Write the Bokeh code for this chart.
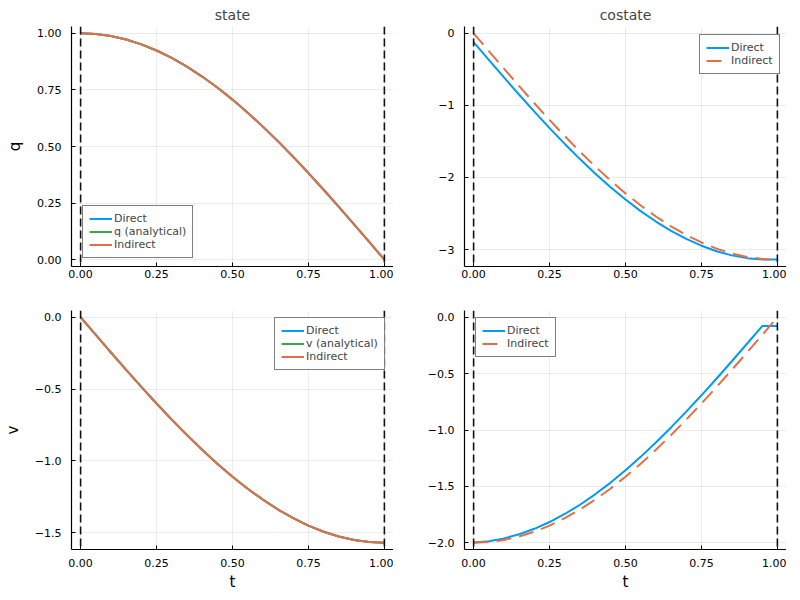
from bokeh.plotting import figure
from bokeh.layouts import gridplot
from bokeh.models import Range1d, Span, FixedTicker, CustomJSTickFormatter
from bokeh.embed import file_html
from bokeh.resources import INLINE

# time grid and values
t = [0.0, 0.05, 0.1, 0.15, 0.2, 0.25, 0.3, 0.35, 0.4, 0.45, 0.5,
     0.55, 0.6, 0.65, 0.7, 0.75, 0.8, 0.85, 0.9, 0.95, 1.0]

q_direct = [1.0, 0.9969, 0.9877, 0.9724, 0.9511, 0.9239, 0.891, 0.8526, 0.809, 0.7604, 0.7071,
            0.6495, 0.5878, 0.5225, 0.454, 0.3827, 0.309, 0.2334, 0.1564, 0.0785, 0.0]
q_analytical = [1.0, 0.9969, 0.9877, 0.9724, 0.9511, 0.9239, 0.891, 0.8526, 0.809, 0.7604, 0.7071,
                0.6495, 0.5878, 0.5225, 0.454, 0.3827, 0.309, 0.2334, 0.1564, 0.0785, 0.0]
q_indirect = [1.0, 0.9969, 0.9877, 0.9724, 0.9511, 0.9239, 0.891, 0.8526, 0.809, 0.7604, 0.7071,
              0.6495, 0.5878, 0.5225, 0.454, 0.3827, 0.309, 0.2334, 0.1564, 0.0785, 0.0]

v_direct = [0.0, -0.1232, -0.2457, -0.3667, -0.4854, -0.6011, -0.7131, -0.8207, -0.9233, -1.0202, -1.1107,
            -1.1945, -1.2708, -1.3393, -1.3996, -1.4512, -1.4939, -1.5274, -1.5515, -1.566, -1.5708]
v_analytical = [0.0, -0.1232, -0.2457, -0.3667, -0.4854, -0.6011, -0.7131, -0.8207, -0.9233, -1.0202, -1.1107,
                -1.1945, -1.2708, -1.3393, -1.3996, -1.4512, -1.4939, -1.5274, -1.5515, -1.566, -1.5708]
v_indirect = [0.0, -0.1232, -0.2457, -0.3667, -0.4854, -0.6011, -0.7131, -0.8207, -0.9233, -1.0202, -1.1107,
              -1.1945, -1.2708, -1.3393, -1.3996, -1.4512, -1.4939, -1.5274, -1.5515, -1.566, -1.5708]

lq_direct = [-0.1233, -0.3693, -0.6129, -0.8528, -1.0873, -1.3153, -1.535, -1.7454, -1.9449, -2.1325, -2.3069,
             -2.4671, -2.6121, -2.741, -2.853, -2.9474, -3.0237, -3.0813, -3.1198, -3.1392, -3.1392]
lq_indirect = [0.0, -0.2465, -0.4914, -0.7334, -0.9708, -1.2022, -1.4263, -1.6415, -1.8466, -2.0403, -2.2214,
               -2.3889, -2.5416, -2.6786, -2.7992, -2.9025, -2.9879, -3.0548, -3.1029, -3.1319, -3.1416]

lv_direct = [-1.9985, -1.9861, -1.9616, -1.9249, -1.8764, -1.8163, -1.745, -1.6629, -1.5706, -1.4686, -1.3576,
             -1.2382, -1.1111, -0.9772, -0.8373, -0.6922, -0.5429, -0.3902, -0.2351, -0.0785, -0.0785]
lv_indirect = [-2.0, -1.9938, -1.9754, -1.9447, -1.9021, -1.8478, -1.782, -1.7053, -1.618, -1.5208, -1.4142,
               -1.2989, -1.1756, -1.045, -0.908, -0.7654, -0.618, -0.4669, -0.3129, -0.1569, 0.0]

t_bounds = [0.0, 1.0]
x_ticks = [0.0, 0.25, 0.5, 0.75, 1.0]
q_ticks = [0.0, 0.25, 0.5, 0.75, 1.0]
lq_ticks = [-3, -2, -1, 0]
v_ticks = [-1.5, -1.0, -0.5, 0.0]
lv_ticks = [-2.0, -1.5, -1.0, -0.5, 0.0]

BLUE = "#009AFA"
ORANGE = "#E36F47"
GREEN = "#3EA44E"
FONT = "DejaVu Sans"


def fmt(digits):
    return CustomJSTickFormatter(args=dict(d=digits), code="""
        const s = Math.abs(tick).toFixed(d);
        return (tick < -1e-9 ? "\u2212" : "") + s;
    """)


def padded(lists):
    lo = min(min(a) for a in lists)
    hi = max(max(a) for a in lists)
    pad = 0.03 * (hi - lo)
    return Range1d(lo - pad, hi + pad)


def panel(series, y_ticks, y_digits, title=None, ylabel=None, xlabel=None, top_row=True):
    p = figure(frame_width=322, frame_height=240 if top_row else 239,
               min_border_left=71, min_border_right=0,
               min_border_top=25 if top_row else 19,
               min_border_bottom=25 if top_row else 44,
               x_range=padded([t]), y_range=padded([s[1] for s in series]),
               output_backend="svg", toolbar_location=None, tools="")
    p.outline_line_color = None
    p.background_fill_color = "white"

    for ax in (p.xaxis[0], p.yaxis[0]):
        ax.axis_line_color = "black"
        ax.axis_line_width = 1.2
        ax.major_tick_in = 4
        ax.major_tick_out = 0
        ax.minor_tick_line_color = None
        ax.major_tick_line_color = "black"
        ax.major_label_text_font = FONT
        ax.major_label_text_font_size = "11px"
        ax.major_label_text_color = "black"
        ax.axis_label_text_font = FONT
        ax.axis_label_text_font_size = "15px"
        ax.axis_label_text_font_style = "normal"
        ax.axis_label_text_color = "black"

    p.xaxis.ticker = FixedTicker(ticks=x_ticks)
    p.xaxis.formatter = fmt(2)
    p.xaxis.major_label_standoff = 3 if top_row else 9
    p.xaxis.axis_label_standoff = 3
    p.yaxis.ticker = FixedTicker(ticks=y_ticks)
    p.yaxis.formatter = fmt(y_digits)
    p.yaxis.major_label_standoff = 10
    p.yaxis.axis_label_standoff = 10
    if xlabel:
        p.xaxis.axis_label = xlabel
    if ylabel:
        p.yaxis.axis_label = ylabel

    p.grid.grid_line_color = "black"
    p.grid.grid_line_alpha = 0.07
    p.grid.grid_line_width = 1

    if title:
        p.title.text = title
        p.title.align = "center"
        p.title.text_font = FONT
        p.title.text_font_size = "14px"
        p.title.text_font_style = "normal"
        p.title.standoff = 8

    for label, ys, color, dash in series:
        p.line(t, ys, line_color=color, line_width=2, line_dash=dash, legend_label=label)

    for loc in t_bounds:
        p.add_layout(Span(location=loc, dimension="height", line_color="#111111",
                          line_width=1.6, line_dash="8 4"))

    lg = p.legend[0]
    lg.label_text_font = FONT
    lg.label_text_font_size = "11px"
    lg.label_height = 13
    lg.glyph_height = 13
    lg.glyph_width = 23
    lg.label_standoff = 2
    lg.padding = 6
    lg.spacing = 0
    lg.margin = 0
    lg.border_line_color = "black"
    lg.border_line_width = 1
    lg.background_fill_alpha = 1.0
    return p


p1 = panel([("Direct", q_direct, BLUE, "solid"),
            ("q (analytical)", q_analytical, GREEN, "solid"),
            ("Indirect", q_indirect, ORANGE, "solid")],
           q_ticks, 2, title="state", ylabel="q")
p1.legend.location = (11, 8)

p2 = panel([("Direct", lq_direct, BLUE, "solid"),
            ("Indirect", lq_indirect, ORANGE, "15 8")],
           lq_ticks, 0, title="costate")
p2.legend.location = (235, 192)

p3 = panel([("Direct", v_direct, BLUE, "solid"),
            ("v (analytical)", v_analytical, GREEN, "solid"),
            ("Indirect", v_indirect, ORANGE, "solid")],
           v_ticks, 1, ylabel="v", xlabel="t", top_row=False)
p3.legend.location = (203, 179)

p4 = panel([("Direct", lv_direct, BLUE, "solid"),
            ("Indirect", lv_indirect, ORANGE, "15 8")],
           lv_ticks, 1, xlabel="t", top_row=False)
p4.legend.location = (11, 192)

p = gridplot([[p1, p2], [p3, p4]], toolbar_location=None)

open("out.html", "w").write(file_html(p, INLINE))
